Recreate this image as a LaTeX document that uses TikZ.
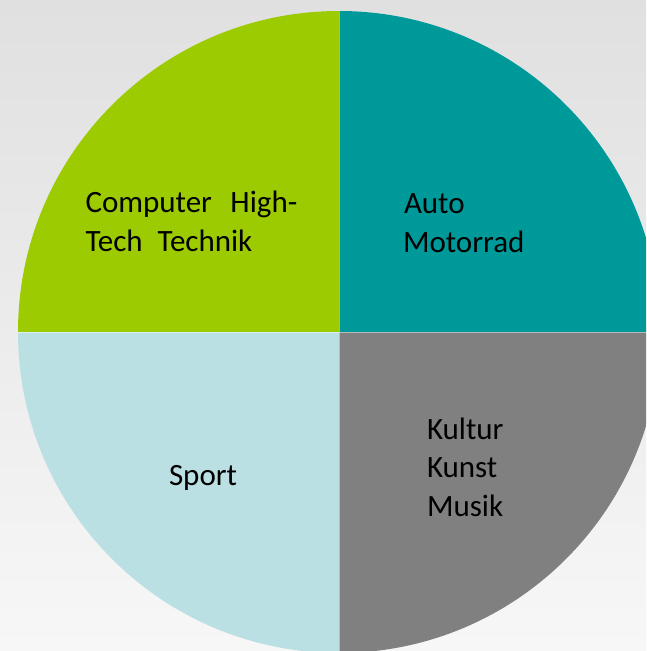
\documentclass[tikz,border=0pt]{standalone}
\usepackage{fontspec}
\setmainfont{Carlito}
\definecolor{bgtop}{HTML}{E0E0E0}
\definecolor{bgbot}{HTML}{F7F7F7}
\definecolor{qgreen}{HTML}{9BCB00}
\definecolor{qteal}{HTML}{009999}
\definecolor{qlight}{HTML}{BBE0E3}
\definecolor{qgray}{HTML}{808080}
\tikzset{
  lbl/.style={anchor=base west, inner sep=0pt, outer sep=0pt, text=black,
              font=\fontsize{31}{38}\selectfont},
  sep/.style={draw=white, draw opacity=0.45, line width=0.8pt}
}
\begin{document}
\begin{tikzpicture}[x=1pt,y=-1pt]
  \shade[top color=bgtop, bottom color=bgbot] (0,0) rectangle (646,651);
  \useasboundingbox (0,0) rectangle (646,651);
  \coordinate (c) at (339,332);
  \begin{scope}
    \clip (0,0) rectangle (646,651);
    \clip (c) circle[radius=321pt];
    \fill[qgreen] (c) rectangle (0,0);
    \fill[qteal]  (c) rectangle (700,0);
    \fill[qlight] (c) rectangle (0,700);
    \fill[qgray]  (c) rectangle (700,700);
    \draw[sep] (339,0) -- (339,700);
    \draw[sep] (0,332) -- (700,332);
  \end{scope}
  \node[lbl] (l1) at (85.5,212) {Computer\hspace{18.5pt}High-};
  \node[lbl] (l2) at (85.5,251) {Tech\hspace{15pt}Technik};
  \node[lbl] (a1) at (404,213) {Auto};
  \node[lbl] (a2) at (403,252) {Motorrad};
  \node[lbl] (s1) at (169,485) {Sport};
  \node[lbl] (k1) at (427,439) {Kultur};
  \node[lbl] (k2) at (427,477) {Kunst};
  \node[lbl] (k3) at (427,516) {Musik};
\end{tikzpicture}
\end{document}
